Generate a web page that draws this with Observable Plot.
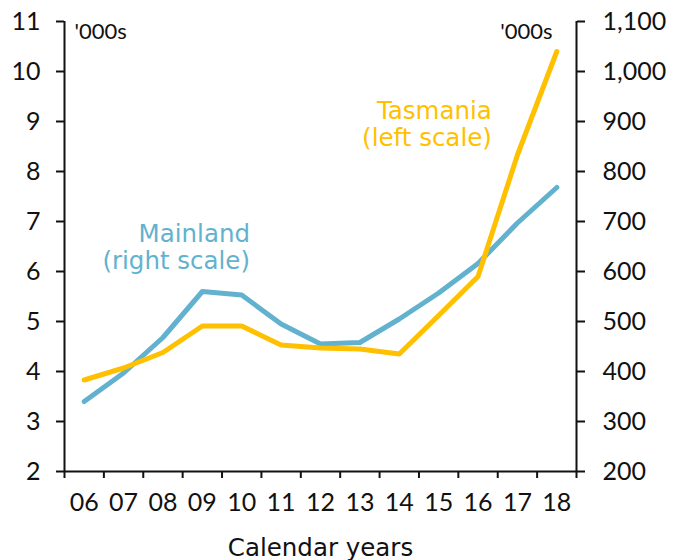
<!DOCTYPE html>
<html>
<head>
<meta charset="utf-8">
<script src="https://cdn.jsdelivr.net/npm/d3@7"></script>
<script src="https://cdn.jsdelivr.net/npm/@observablehq/plot@0.6"></script>
<style>
  html, body { margin: 0; padding: 0; background: #fff; }
  #chart svg { display: block; }
</style>
</head>
<body>
<div id="chart"></div>
<script>
// Calendar years (tick labels)
const years = ["06","07","08","09","10","11","12","13","14","15","16","17","18"];
// Tasmania, '000s (left scale)
const tasmania = [3.83, 4.07, 4.38, 4.91, 4.91, 4.53, 4.47, 4.45, 4.35, 5.12, 5.90, 8.33, 10.40];
// Mainland, '000s (right scale)
const mainland = [340, 397, 468, 560, 553, 495, 455, 458, 505, 557, 616, 697, 768];
// Axis ticks
const leftTicks = [2, 3, 4, 5, 6, 7, 8, 9, 10, 11];
const rightTicks = [200, 300, 400, 500, 600, 700, 800, 900, 1000, 1100];
// Series labels (two lines each)
const mainlandLabel = ["Mainland", "(right scale)"];
const tasmaniaLabel = ["Tasmania", "(left scale)"];
const unitLabel = "'000s";
const xTitle = "Calendar years";

const gold = "#FFC000";
const blue = "#62B2CF";
const wordFont = "'DejaVu Sans', Verdana, sans-serif";
const numFont = "Lato, 'Noto Sans', sans-serif";

const lMin = leftTicks[0], lMax = leftTicks[leftTicks.length - 1];
const rMin = rightTicks[0], rMax = rightTicks[rightTicks.length - 1];
const toLeft = v => lMin + (v - rMin) * (lMax - lMin) / (rMax - rMin);
const toRight = v => rMin + (v - lMin) * (rMax - rMin) / (lMax - lMin);

const rows = years.map((yr, i) => ({i, yr, tas: tasmania[i], main: toLeft(mainland[i])}));
const edges = d3.range(-0.5, years.length, 1);

const labelOpts = {textAnchor: "end", lineAnchor: "bottom", fontSize: 24.5, fontFamily: wordFont};

const chart = Plot.plot({
  width: 683,
  height: 560,
  marginLeft: 64,
  marginRight: 107,
  marginTop: 21,
  marginBottom: 89,
  style: {fontFamily: numFont, fontSize: "25px", color: "#111", background: "#fff"},
  x: {type: "linear", domain: [-0.5, years.length - 0.5]},
  y: {domain: [lMin, lMax]},
  marks: [
    // axis lines
    Plot.ruleX([-0.5], {stroke: "#111", strokeWidth: 2}),
    Plot.ruleX([years.length - 0.5], {stroke: "#111", strokeWidth: 2}),
    Plot.ruleY([lMin], {stroke: "#111", strokeWidth: 2}),
    // left axis
    Plot.axisY(leftTicks, {anchor: "left", tickSize: 8, tickPadding: 16, strokeWidth: 2, stroke: "#111", label: null, fontSize: 25,
      tickFormat: d => String(d)}),
    // right axis
    Plot.axisY(leftTicks, {anchor: "right", tickSize: 8, tickPadding: 18, strokeWidth: 2, stroke: "#111", label: null, fontSize: 25,
      tickFormat: d => d3.format(",")(Math.round(toRight(d)))}),
    // bottom ticks at year boundaries
    Plot.axisX(edges, {anchor: "bottom", tickSize: 7, strokeWidth: 2, stroke: "#111", tickFormat: () => "", label: null}),
    // bottom labels at year centres
    Plot.axisX(d3.range(years.length), {anchor: "bottom", tickSize: 0, tickPadding: 22, label: null, fontSize: 25,
      tickFormat: i => years[i]}),
    // series
    Plot.line(rows, {x: "i", y: "main", stroke: blue, strokeWidth: 5}),
    Plot.line(rows, {x: "i", y: "tas", stroke: gold, strokeWidth: 5}),
    // series labels
    Plot.text([mainlandLabel[0]], {...labelOpts, x: 4.21, y: 6.6, text: d => d, fill: blue}),
    Plot.text([mainlandLabel[1]], {...labelOpts, x: 4.21, y: 6.6, dy: 27, text: d => d, fill: blue}),
    Plot.text([tasmaniaLabel[0]], {...labelOpts, x: 10.35, y: 9.06, text: d => d, fill: gold}),
    Plot.text([tasmaniaLabel[1]], {...labelOpts, x: 10.35, y: 9.06, dy: 27, text: d => d, fill: gold}),
    // unit labels
    Plot.text([unitLabel], {frameAnchor: "top-left", dx: 10, dy: 2, text: d => d, textAnchor: "start", lineAnchor: "top", fontSize: 22, fill: "#111"}),
    Plot.text([unitLabel], {frameAnchor: "top-right", dx: -24, dy: 2, text: d => d, textAnchor: "end", lineAnchor: "top", fontSize: 22, fill: "#111"}),
    // x title
    Plot.text([xTitle], {frameAnchor: "bottom", dy: 84, text: d => d, textAnchor: "middle", lineAnchor: "bottom",
      fontSize: 24.5, fill: "#111", fontFamily: wordFont})
  ]
});
document.getElementById("chart").appendChild(chart);
</script>
</body>
</html>
